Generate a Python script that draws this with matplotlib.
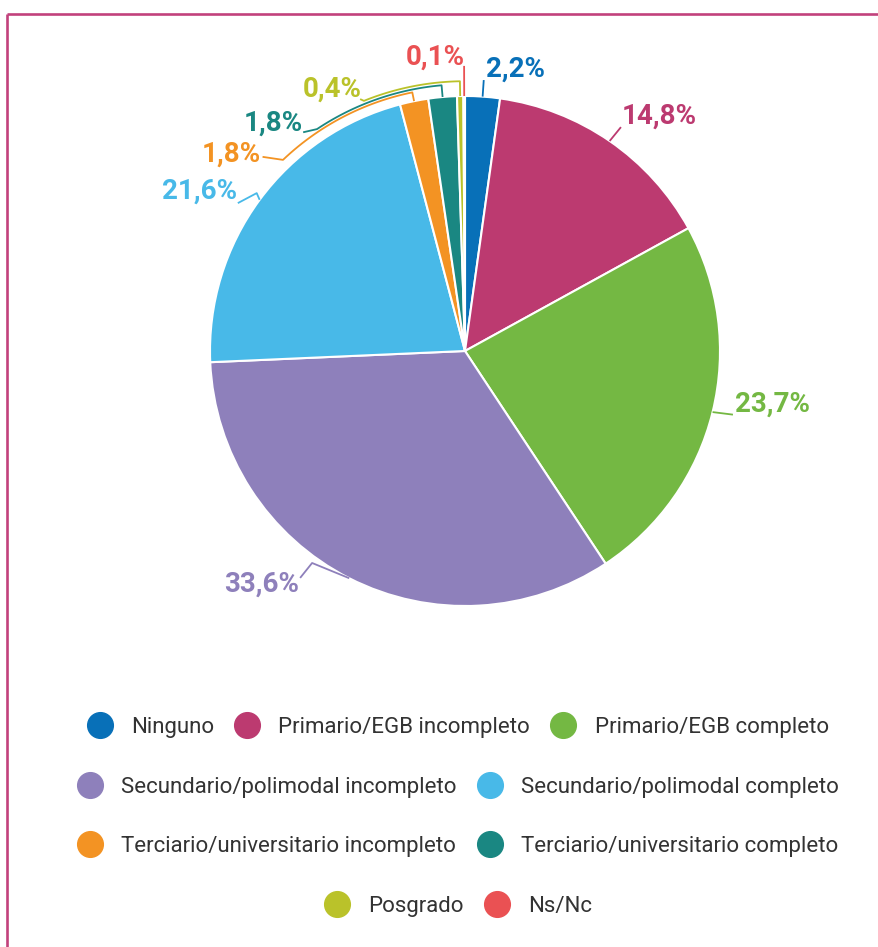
import numpy as np
import matplotlib
matplotlib.use("Agg")
import matplotlib.pyplot as plt
from matplotlib.lines import Line2D

plt.rcParams['font.family'] = ['Roboto', 'DejaVu Sans']

# ---- data ----
categories = ["Ninguno", "Primario/EGB incompleto", "Primario/EGB completo",
              "Secundario/polimodal incompleto", "Secundario/polimodal completo",
              "Terciario/universitario incompleto", "Terciario/universitario completo",
              "Posgrado", "Ns/Nc"]
values = [2.2, 14.8, 23.7, 33.6, 21.6, 1.8, 1.8, 0.4, 0.1]
value_labels = ["2,2%", "14,8%", "23,7%", "33,6%", "21,6%", "1,8%", "1,8%", "0,4%", "0,1%"]
colors = ["#0870b8", "#bc3a70", "#74b843", "#8e80bb", "#48b9e8",
          "#f39323", "#1a8782", "#bac22a", "#ea5153"]

# ---- layout ----
W, H = 879, 947
fig = plt.figure(figsize=(W / 100, H / 100), dpi=100)
ax = fig.add_axes([0, 0, 1, 1])

CX, CY, R = 465, H - 351, 255

ax.pie(values, colors=colors, startangle=90, counterclock=False,
       center=(CX, CY), radius=R,
       wedgeprops=dict(edgecolor="white", linewidth=1.5))
ax.set_xlim(0, W)
ax.set_ylim(0, H)
ax.set_aspect("equal")
ax.axis("off")

# angles of slice midpoints (degrees, math convention, normalised to (-180, 180])
total = sum(values)
cum = np.cumsum([0] + values[:-1])
mids = [((90 - 360 * (c + v / 2) / total) + 180) % 360 - 180 for c, v in zip(cum, values)]


def pol(ang, r):
    a = np.deg2rad(ang)
    return CX + R * r * np.cos(a), CY + R * r * np.sin(a)


def arc(a0, a1, r, n=30):
    return [pol(a, r) for a in np.linspace(a0, a1, n)]


paths = []
m = mids
# Ninguno
paths.append(([pol(m[0], 1.0), pol(m[0], 1.065)], "left", "bottom", 2, -3))
# Primario inc
paths.append(([pol(m[1], 1.0), pol(m[1] - 0.3, 1.07)], "left", "bottom", 1, -3))
# Primario comp
paths.append(([pol(m[2], 1.0), pol(m[2] + 0.5, 1.08)], "left", "bottom", 2, -3))
# Secundario inc
paths.append(([pol(m[3], 1.0), pol(m[3] - 8.8, 1.025), pol(m[3] - 9.0, 1.10)], "right", "center", -1, -6))
# Secundario comp
paths.append(([pol(m[4], 1.0), pol(m[4] - 0.8, 1.025), pol(m[4] + 3.3, 1.063)], "right", "bottom", -1, -2))
# Terciario inc
paths.append(([pol(m[5], 1.0)] + arc(m[5], 133.6, 1.035) + [pol(136.2, 1.10)], "right", "center", -2, 3))
# Terciario comp
paths.append(([pol(m[6], 1.0)] + arc(m[6], 123.7, 1.046) + [pol(126.5, 1.067)], "right", "bottom", 0, -4))
# Posgrado
paths.append(([pol(m[7], 1.0)] + arc(m[7], 112.0, 1.058) + [pol(112.6, 1.07)], "right", "bottom", 2, -4))
# Ns/Nc
paths.append(([pol(m[8], 1.0), pol(m[8], 1.118)], "right", "bottom", 1, -5))

for (pts, ha, va, dx, dy), lab, col in zip(paths, value_labels, colors):
    xs = [p[0] for p in pts]
    ys = [p[1] for p in pts]
    ax.plot(xs, ys, color=col, lw=1.3, solid_capstyle="butt", zorder=3)
    ax.text(xs[-1] + dx, ys[-1] + dy, lab, color=col, fontsize=20, fontweight="bold",
            ha=ha, va=va, zorder=4)

# frame lines (top and left)
frame_col = "#c2417c"
ax.plot([7, W], [H - 14, H - 14], color=frame_col, lw=1.9, solid_capstyle="butt")
ax.plot([7, 7], [H - 14, 0], color=frame_col, lw=1.9, solid_capstyle="butt")

# ---- legend rows ----
handles = [Line2D([], [], marker="o", linestyle="none", markersize=18.5,
                  markerfacecolor=c, markeredgecolor=c) for c in colors]
rows = [[0, 1, 2], [3, 4], [5, 6], [7, 8]]
row_y = [727, 787, 846, 906]
for idx, yy in zip(rows, row_y):
    fig.legend([handles[i] for i in idx], [categories[i] for i in idx],
               loc="center", bbox_to_anchor=(457 / W, 1 - yy / H), ncol=len(idx),
               frameon=False, fontsize=16, labelcolor="#333333",
               handlelength=1.3, handletextpad=0.75, columnspacing=0.85,
               borderpad=0, borderaxespad=0)

fig.savefig("out.png", dpi=100, facecolor="white")
